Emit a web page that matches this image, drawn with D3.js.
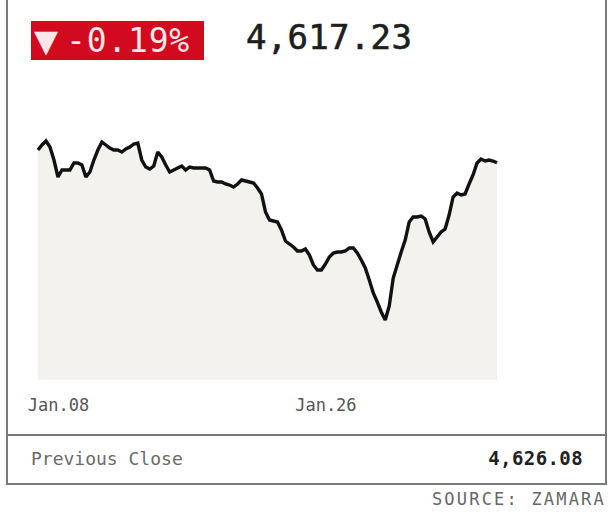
<!DOCTYPE html>
<html>
<head>
<meta charset="utf-8">
<script src="https://cdn.jsdelivr.net/npm/d3@7"></script>
<style>
  html, body { margin: 0; padding: 0; background: #fff; }
  svg { display: block; }
</style>
</head>
<body>
<svg id="chart" width="614" height="520"></svg>
<script>
// Index level, evenly spaced observations from Jan.08 onward
const levels = [
  4630, 4635, 4639, 4633, 4620, 4603, 4610, 4610, 4610, 4617,
  4617, 4615, 4603, 4608, 4620, 4630, 4638, 4635, 4632, 4630,
  4630, 4628, 4631, 4633, 4636, 4637, 4620, 4613, 4611, 4614,
  4628, 4623, 4615, 4608, 4610, 4612, 4614, 4610, 4613, 4612,
  4612, 4612, 4612, 4610, 4599, 4598, 4598, 4596, 4595, 4593,
  4596, 4600, 4599, 4598, 4597, 4592, 4586, 4568, 4560, 4559,
  4558, 4550, 4539, 4536, 4533, 4529, 4529, 4531, 4525, 4515,
  4510, 4510, 4516, 4523, 4527, 4528, 4528, 4529, 4532, 4532,
  4527, 4520, 4512, 4500, 4487, 4478, 4468, 4460, 4474, 4502,
  4515, 4528, 4540, 4558, 4563, 4563, 4564, 4561, 4548, 4538,
  4543, 4548, 4551, 4565, 4583, 4587, 4585, 4586, 4596, 4605,
  4617, 4621, 4619, 4620, 4619, 4617.23
];

// Date labels and the observation each one sits under
const tickLabels = ["Jan.08", "Jan.26"];
const tickIndex = [5, 72];

const lastValue = "4,617.23";
const changeMarker = "\u25BC";
const changeText = "-0.19%";
const prevCloseLabel = "Previous Close";
const prevCloseValue = "4,626.08";
const sourceText = "SOURCE: ZAMARA";

const svg = d3.select("#chart");
const mono = "'DejaVu Sans Mono', 'Liberation Mono', monospace";

// Card frame
svg.append("rect")
  .attr("x", 7).attr("y", -10)
  .attr("width", 599).attr("height", 494)
  .attr("fill", "#fff")
  .attr("stroke", "#7a7a7a").attr("stroke-width", 2);

svg.append("line")
  .attr("x1", 7).attr("x2", 606)
  .attr("y1", 435).attr("y2", 435)
  .attr("stroke", "#7a7a7a").attr("stroke-width", 2);

// Header: change badge and latest level
svg.append("rect")
  .attr("x", 31).attr("y", 21)
  .attr("width", 173).attr("height", 39)
  .attr("fill", "#d20a1f");

const badge = svg.append("text")
  .attr("y", 52)
  .attr("font-family", mono)
  .attr("fill", "#fbe7e7");
badge.append("tspan")
  .attr("x", 34)
  .attr("font-size", 40)
  .attr("dy", 2)
  .text(changeMarker);
badge.append("tspan")
  .attr("x", 66)
  .attr("dy", -2)
  .attr("font-size", 33)
  .attr("letter-spacing", 0.8)
  .text(changeText);

svg.append("text")
  .attr("x", 246).attr("y", 49)
  .attr("font-family", mono).attr("font-size", 34)
  .attr("letter-spacing", 0.3)
  .attr("fill", "#1e1e1e")
  .attr("stroke", "#1e1e1e").attr("stroke-width", 0.6)
  .text(lastValue);

// Plot area
const plotLeft = 38, plotRight = 497, plotTop = 115, plotBottom = 380;

const x = d3.scaleLinear()
  .domain([0, levels.length - 1])
  .range([plotLeft, plotRight]);

const y = d3.scaleLinear()
  .domain([4400, 4665])
  .range([plotBottom, plotTop]);

const area = d3.area()
  .x((d, i) => x(i))
  .y0(plotBottom)
  .y1(d => y(d));

const line = d3.line()
  .x((d, i) => x(i))
  .y(d => y(d));

svg.append("path")
  .datum(levels)
  .attr("d", area)
  .attr("fill", "#f4f2ee");

svg.append("path")
  .datum(levels)
  .attr("d", line)
  .attr("fill", "none")
  .attr("stroke", "#111")
  .attr("stroke-width", 3.4)
  .attr("stroke-linejoin", "miter")
  .attr("stroke-miterlimit", 2)
  .attr("stroke-linecap", "butt");

// Date axis
const axis = d3.axisBottom(x)
  .tickValues(tickIndex)
  .tickFormat((d, i) => tickLabels[i])
  .tickSize(0)
  .tickPadding(0);

const gAxis = svg.append("g")
  .attr("transform", `translate(0, ${plotBottom + 19})`)
  .call(axis);
gAxis.select(".domain").remove();
gAxis.selectAll("text")
  .attr("font-family", mono)
  .attr("font-size", 17)
  .attr("fill", "#555");

// Footer row
svg.append("text")
  .attr("x", 31).attr("y", 465)
  .attr("font-family", mono).attr("font-size", 18)
  .attr("fill", "#6a6a6a")
  .text(prevCloseLabel);

svg.append("text")
  .attr("x", 583).attr("y", 465)
  .attr("text-anchor", "end")
  .attr("font-family", mono).attr("font-size", 19)
  .attr("letter-spacing", 0.4)
  .attr("font-weight", "bold")
  .attr("fill", "#222")
  .text(prevCloseValue);

svg.append("text")
  .attr("x", 606).attr("y", 505)
  .attr("text-anchor", "end")
  .attr("font-family", mono).attr("font-size", 17)
  .attr("letter-spacing", 2.2)
  .attr("fill", "#666")
  .text(sourceText);
</script>
</body>
</html>
